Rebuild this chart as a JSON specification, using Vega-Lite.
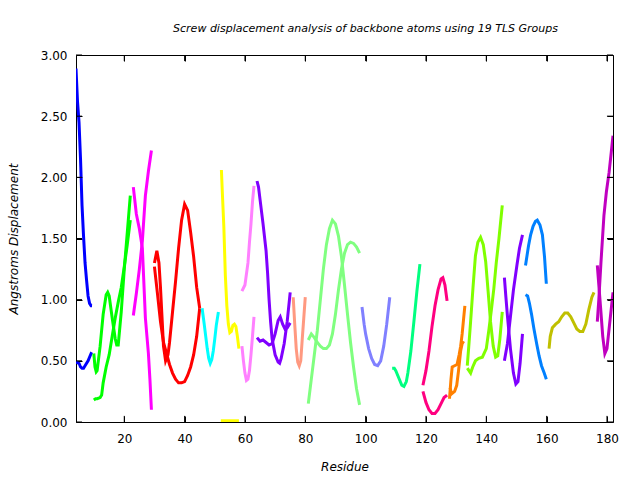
{
"$schema": "https://vega.github.io/schema/vega-lite/v6.json",
"width": 537, "height": 367,
"autosize": {"type": "none"},
"padding": {"left": 76, "top": 55, "right": 27, "bottom": 58},
"background": "white",
"config": {"view": {"stroke": "black", "strokeWidth": 1}, "font": "DejaVu Sans"},
"title": {"text": "Screw displacement analysis of backbone atoms using 19 TLS Groups", "font": "DejaVu Sans", "fontSize": 11, "fontStyle": "italic", "fontWeight": "normal", "anchor": "middle", "baseline": "alphabetic", "offset": 6, "dx": 21, "color": "black"},
"datasets": {
"xt": [{"t":20},{"t":40},{"t":60},{"t":80},{"t":100},{"t":120},{"t":140},{"t":160},{"t":180}],
"yt": [{"t":0},{"t":0.5},{"t":1},{"t":1.5},{"t":2},{"t":2.5},{"t":3}]
},
"data": {"values": [
{"c":"1a","g":"1","r":4,"v":2.89},{"c":"1a","g":"1","r":4.5,"v":2.62},{"c":"1a","g":"1","r":5,"v":2.45},{"c":"1a","g":"1","r":5.5,"v":2.15},{"c":"1a","g":"1","r":6,"v":1.77},{"c":"1a","g":"1","r":6.5,"v":1.52},{"c":"1a","g":"1","r":7,"v":1.30},{"c":"1a","g":"1","r":7.5,"v":1.16},{"c":"1a","g":"1","r":8,"v":1.03},{"c":"1a","g":"1","r":8.5,"v":0.97},{"c":"1a","g":"1","r":9,"v":0.95},{"c":"1a","g":"1","r":9.3,"v":0.95},
{"c":"1b","g":"1","r":4,"v":0.49},{"c":"1b","g":"1","r":5,"v":0.48},{"c":"1b","g":"1","r":5.5,"v":0.45},{"c":"1b","g":"1","r":6,"v":0.44},{"c":"1b","g":"1","r":6.5,"v":0.44},{"c":"1b","g":"1","r":7,"v":0.46},{"c":"1b","g":"1","r":8,"v":0.50},{"c":"1b","g":"1","r":9,"v":0.56},{"c":"1b","g":"1","r":9.2,"v":0.57},
{"c":"2a","g":"2","r":9.9,"v":0.56},{"c":"2a","g":"2","r":10.3,"v":0.45},{"c":"2a","g":"2","r":10.7,"v":0.41},{"c":"2a","g":"2","r":11,"v":0.42},{"c":"2a","g":"2","r":12,"v":0.62},{"c":"2a","g":"2","r":13,"v":0.88},{"c":"2a","g":"2","r":14,"v":1.04},{"c":"2a","g":"2","r":14.5,"v":1.06},{"c":"2a","g":"2","r":15,"v":1.03},{"c":"2a","g":"2","r":16,"v":0.85},{"c":"2a","g":"2","r":17,"v":0.68},{"c":"2a","g":"2","r":17.5,"v":0.63},{"c":"2a","g":"2","r":18,"v":0.63},{"c":"2a","g":"2","r":19,"v":0.90},{"c":"2a","g":"2","r":20,"v":1.25},{"c":"2a","g":"2","r":21,"v":1.55},{"c":"2a","g":"2","r":22,"v":1.85},
{"c":"2b","g":"2","r":9.9,"v":0.18},{"c":"2b","g":"2","r":10.5,"v":0.19},{"c":"2b","g":"2","r":11,"v":0.19},{"c":"2b","g":"2","r":12,"v":0.20},{"c":"2b","g":"2","r":12.5,"v":0.22},{"c":"2b","g":"2","r":13,"v":0.32},{"c":"2b","g":"2","r":14,"v":0.45},{"c":"2b","g":"2","r":15,"v":0.55},{"c":"2b","g":"2","r":16,"v":0.70},{"c":"2b","g":"2","r":17,"v":0.85},{"c":"2b","g":"2","r":18,"v":0.98},{"c":"2b","g":"2","r":19,"v":1.10},{"c":"2b","g":"2","r":20,"v":1.27},{"c":"2b","g":"2","r":21,"v":1.45},{"c":"2b","g":"2","r":22,"v":1.65},
{"c":"3a","g":"3","r":23,"v":0.87},{"c":"3a","g":"3","r":24,"v":1.05},{"c":"3a","g":"3","r":25,"v":1.25},{"c":"3a","g":"3","r":26,"v":1.48},{"c":"3a","g":"3","r":27,"v":1.85},{"c":"3a","g":"3","r":28,"v":2.05},{"c":"3a","g":"3","r":29,"v":2.22},
{"c":"3b","g":"3","r":23,"v":1.92},{"c":"3b","g":"3","r":24,"v":1.70},{"c":"3b","g":"3","r":25,"v":1.58},{"c":"3b","g":"3","r":26,"v":1.42},{"c":"3b","g":"3","r":27,"v":0.85},{"c":"3b","g":"3","r":28,"v":0.56},{"c":"3b","g":"3","r":28.5,"v":0.35},{"c":"3b","g":"3","r":29,"v":0.10},
{"c":"4a","g":"4","r":30,"v":1.30},{"c":"4a","g":"4","r":30.8,"v":1.40},{"c":"4a","g":"4","r":31.5,"v":1.30},{"c":"4a","g":"4","r":32,"v":1.10},{"c":"4a","g":"4","r":33,"v":0.62},{"c":"4a","g":"4","r":33.7,"v":0.50},{"c":"4a","g":"4","r":34.5,"v":0.55},{"c":"4a","g":"4","r":35,"v":0.65},{"c":"4a","g":"4","r":36,"v":0.90},{"c":"4a","g":"4","r":37,"v":1.15},{"c":"4a","g":"4","r":38,"v":1.42},{"c":"4a","g":"4","r":39,"v":1.65},{"c":"4a","g":"4","r":40,"v":1.78},{"c":"4a","g":"4","r":41,"v":1.73},{"c":"4a","g":"4","r":42,"v":1.55},{"c":"4a","g":"4","r":43,"v":1.35},{"c":"4a","g":"4","r":44,"v":1.10},{"c":"4a","g":"4","r":45,"v":0.93},
{"c":"4b","g":"4","r":30,"v":1.27},{"c":"4b","g":"4","r":31,"v":1.05},{"c":"4b","g":"4","r":32,"v":0.82},{"c":"4b","g":"4","r":33,"v":0.65},{"c":"4b","g":"4","r":34,"v":0.56},{"c":"4b","g":"4","r":35,"v":0.47},{"c":"4b","g":"4","r":36,"v":0.40},{"c":"4b","g":"4","r":37,"v":0.35},{"c":"4b","g":"4","r":38,"v":0.32},{"c":"4b","g":"4","r":39,"v":0.32},{"c":"4b","g":"4","r":40,"v":0.33},{"c":"4b","g":"4","r":41,"v":0.38},{"c":"4b","g":"4","r":42,"v":0.45},{"c":"4b","g":"4","r":43,"v":0.55},{"c":"4b","g":"4","r":44,"v":0.70},{"c":"4b","g":"4","r":45,"v":0.93},
{"c":"5a","g":"5","r":45.8,"v":0.93},{"c":"5a","g":"5","r":46.5,"v":0.80},{"c":"5a","g":"5","r":47,"v":0.70},{"c":"5a","g":"5","r":47.5,"v":0.60},{"c":"5a","g":"5","r":48,"v":0.52},{"c":"5a","g":"5","r":48.5,"v":0.48},{"c":"5a","g":"5","r":49,"v":0.51},{"c":"5a","g":"5","r":49.5,"v":0.58},{"c":"5a","g":"5","r":50,"v":0.68},{"c":"5a","g":"5","r":50.5,"v":0.79},{"c":"5a","g":"5","r":51.2,"v":0.90},
{"c":"6a","g":"6","r":52.2,"v":2.06},{"c":"6a","g":"6","r":52.5,"v":1.88},{"c":"6a","g":"6","r":53,"v":1.60},{"c":"6a","g":"6","r":53.5,"v":1.20},{"c":"6a","g":"6","r":54,"v":0.95},{"c":"6a","g":"6","r":54.5,"v":0.80},{"c":"6a","g":"6","r":55,"v":0.73},{"c":"6a","g":"6","r":55.5,"v":0.74},{"c":"6a","g":"6","r":56,"v":0.79},{"c":"6a","g":"6","r":56.5,"v":0.80},{"c":"6a","g":"6","r":57,"v":0.78},{"c":"6a","g":"6","r":57.5,"v":0.70},{"c":"6a","g":"6","r":58,"v":0.60},
{"c":"6b","g":"6","r":52,"v":0.01},{"c":"6b","g":"6","r":58,"v":0.01},
{"c":"7a","g":"7","r":59,"v":1.07},{"c":"7a","g":"7","r":60,"v":1.12},{"c":"7a","g":"7","r":61,"v":1.30},{"c":"7a","g":"7","r":61.5,"v":1.47},{"c":"7a","g":"7","r":62,"v":1.62},{"c":"7a","g":"7","r":62.5,"v":1.80},{"c":"7a","g":"7","r":63,"v":1.93},
{"c":"7b","g":"7","r":59,"v":0.62},{"c":"7b","g":"7","r":59.5,"v":0.50},{"c":"7b","g":"7","r":60,"v":0.40},{"c":"7b","g":"7","r":60.5,"v":0.34},{"c":"7b","g":"7","r":61,"v":0.35},{"c":"7b","g":"7","r":61.5,"v":0.42},{"c":"7b","g":"7","r":62,"v":0.55},{"c":"7b","g":"7","r":62.5,"v":0.70},{"c":"7b","g":"7","r":63,"v":0.86},
{"c":"8a","g":"8","r":64,"v":1.97},{"c":"8a","g":"8","r":64.5,"v":1.92},{"c":"8a","g":"8","r":65,"v":1.82},{"c":"8a","g":"8","r":66,"v":1.62},{"c":"8a","g":"8","r":67,"v":1.40},{"c":"8a","g":"8","r":67.5,"v":1.22},{"c":"8a","g":"8","r":68,"v":1.00},{"c":"8a","g":"8","r":68.5,"v":0.82},{"c":"8a","g":"8","r":69,"v":0.68},{"c":"8a","g":"8","r":70,"v":0.55},{"c":"8a","g":"8","r":71,"v":0.49},{"c":"8a","g":"8","r":71.5,"v":0.48},{"c":"8a","g":"8","r":72,"v":0.52},{"c":"8a","g":"8","r":73,"v":0.64},{"c":"8a","g":"8","r":74,"v":0.82},{"c":"8a","g":"8","r":75,"v":1.06},
{"c":"8b","g":"8","r":64,"v":0.69},{"c":"8b","g":"8","r":65,"v":0.66},{"c":"8b","g":"8","r":66,"v":0.67},{"c":"8b","g":"8","r":67,"v":0.65},{"c":"8b","g":"8","r":68,"v":0.63},{"c":"8b","g":"8","r":69,"v":0.64},{"c":"8b","g":"8","r":70,"v":0.72},{"c":"8b","g":"8","r":71,"v":0.83},{"c":"8b","g":"8","r":71.7,"v":0.86},{"c":"8b","g":"8","r":72.5,"v":0.80},{"c":"8b","g":"8","r":73.3,"v":0.76},{"c":"8b","g":"8","r":74,"v":0.77},{"c":"8b","g":"8","r":75,"v":0.81},
{"c":"9a","g":"9","r":76,"v":1.02},{"c":"9a","g":"9","r":76.5,"v":0.80},{"c":"9a","g":"9","r":77,"v":0.60},{"c":"9a","g":"9","r":77.5,"v":0.49},{"c":"9a","g":"9","r":78,"v":0.46},{"c":"9a","g":"9","r":78.5,"v":0.50},{"c":"9a","g":"9","r":79,"v":0.68},{"c":"9a","g":"9","r":79.5,"v":0.85},{"c":"9a","g":"9","r":80,"v":1.02},
{"c":"10a","g":"10","r":81,"v":0.15},{"c":"10a","g":"10","r":82,"v":0.35},{"c":"10a","g":"10","r":83,"v":0.55},{"c":"10a","g":"10","r":84,"v":0.75},{"c":"10a","g":"10","r":85,"v":1.00},{"c":"10a","g":"10","r":86,"v":1.25},{"c":"10a","g":"10","r":87,"v":1.45},{"c":"10a","g":"10","r":88,"v":1.58},{"c":"10a","g":"10","r":89,"v":1.65},{"c":"10a","g":"10","r":90,"v":1.62},{"c":"10a","g":"10","r":91,"v":1.52},{"c":"10a","g":"10","r":92,"v":1.35},{"c":"10a","g":"10","r":93,"v":1.12},{"c":"10a","g":"10","r":94,"v":0.88},{"c":"10a","g":"10","r":95,"v":0.65},{"c":"10a","g":"10","r":96,"v":0.45},{"c":"10a","g":"10","r":97,"v":0.27},{"c":"10a","g":"10","r":98,"v":0.14},
{"c":"10b","g":"10","r":81,"v":0.67},{"c":"10b","g":"10","r":82,"v":0.72},{"c":"10b","g":"10","r":83,"v":0.69},{"c":"10b","g":"10","r":84,"v":0.65},{"c":"10b","g":"10","r":85,"v":0.62},{"c":"10b","g":"10","r":86,"v":0.60},{"c":"10b","g":"10","r":87,"v":0.60},{"c":"10b","g":"10","r":88,"v":0.63},{"c":"10b","g":"10","r":89,"v":0.72},{"c":"10b","g":"10","r":90,"v":0.88},{"c":"10b","g":"10","r":91,"v":1.08},{"c":"10b","g":"10","r":92,"v":1.25},{"c":"10b","g":"10","r":93,"v":1.38},{"c":"10b","g":"10","r":94,"v":1.45},{"c":"10b","g":"10","r":95,"v":1.47},{"c":"10b","g":"10","r":96,"v":1.46},{"c":"10b","g":"10","r":97,"v":1.43},{"c":"10b","g":"10","r":98,"v":1.38},
{"c":"11a","g":"11","r":98.8,"v":0.94},{"c":"11a","g":"11","r":99.5,"v":0.80},{"c":"11a","g":"11","r":100,"v":0.72},{"c":"11a","g":"11","r":101,"v":0.60},{"c":"11a","g":"11","r":102,"v":0.52},{"c":"11a","g":"11","r":103,"v":0.47},{"c":"11a","g":"11","r":104,"v":0.46},{"c":"11a","g":"11","r":105,"v":0.50},{"c":"11a","g":"11","r":106,"v":0.62},{"c":"11a","g":"11","r":107,"v":0.80},{"c":"11a","g":"11","r":108,"v":1.02},
{"c":"12a","g":"12","r":108.8,"v":0.44},{"c":"12a","g":"12","r":109.5,"v":0.44},{"c":"12a","g":"12","r":110,"v":0.42},{"c":"12a","g":"12","r":111,"v":0.36},{"c":"12a","g":"12","r":112,"v":0.30},{"c":"12a","g":"12","r":112.7,"v":0.29},{"c":"12a","g":"12","r":113.5,"v":0.33},{"c":"12a","g":"12","r":114,"v":0.40},{"c":"12a","g":"12","r":115,"v":0.58},{"c":"12a","g":"12","r":116,"v":0.82},{"c":"12a","g":"12","r":117,"v":1.07},{"c":"12a","g":"12","r":118,"v":1.29},
{"c":"13a","g":"13","r":119,"v":0.30},{"c":"13a","g":"13","r":120,"v":0.42},{"c":"13a","g":"13","r":121,"v":0.58},{"c":"13a","g":"13","r":122,"v":0.78},{"c":"13a","g":"13","r":123,"v":0.95},{"c":"13a","g":"13","r":124,"v":1.08},{"c":"13a","g":"13","r":125,"v":1.17},{"c":"13a","g":"13","r":125.6,"v":1.18},{"c":"13a","g":"13","r":126.3,"v":1.12},{"c":"13a","g":"13","r":127,"v":0.99},
{"c":"13b","g":"13","r":119,"v":0.25},{"c":"13b","g":"13","r":120,"v":0.16},{"c":"13b","g":"13","r":121,"v":0.10},{"c":"13b","g":"13","r":122,"v":0.07},{"c":"13b","g":"13","r":123,"v":0.07},{"c":"13b","g":"13","r":124,"v":0.10},{"c":"13b","g":"13","r":125,"v":0.15},{"c":"13b","g":"13","r":126,"v":0.20},{"c":"13b","g":"13","r":127,"v":0.22},
{"c":"14a","g":"14","r":127.8,"v":0.19},{"c":"14a","g":"14","r":128.3,"v":0.35},{"c":"14a","g":"14","r":128.7,"v":0.45},{"c":"14a","g":"14","r":129.5,"v":0.46},{"c":"14a","g":"14","r":130.3,"v":0.47},{"c":"14a","g":"14","r":131,"v":0.55},{"c":"14a","g":"14","r":131.5,"v":0.62},{"c":"14a","g":"14","r":132,"v":0.72},{"c":"14a","g":"14","r":132.5,"v":0.85},{"c":"14a","g":"14","r":132.9,"v":0.95},
{"c":"14b","g":"14","r":128,"v":0.28},{"c":"14b","g":"14","r":128.5,"v":0.23},{"c":"14b","g":"14","r":129.5,"v":0.25},{"c":"14b","g":"14","r":130.2,"v":0.30},{"c":"14b","g":"14","r":130.8,"v":0.42},{"c":"14b","g":"14","r":131.5,"v":0.58},{"c":"14b","g":"14","r":132,"v":0.64},{"c":"14b","g":"14","r":132.5,"v":0.66},
{"c":"15a","g":"15","r":133.7,"v":0.44},{"c":"15a","g":"15","r":134.8,"v":0.40},{"c":"15a","g":"15","r":135.5,"v":0.45},{"c":"15a","g":"15","r":136.4,"v":0.50},{"c":"15a","g":"15","r":137.5,"v":0.52},{"c":"15a","g":"15","r":138.7,"v":0.53},{"c":"15a","g":"15","r":140,"v":0.60},{"c":"15a","g":"15","r":140.9,"v":0.76},{"c":"15a","g":"15","r":141.7,"v":0.92},{"c":"15a","g":"15","r":142.5,"v":1.09},{"c":"15a","g":"15","r":143.3,"v":1.30},{"c":"15a","g":"15","r":144.2,"v":1.50},{"c":"15a","g":"15","r":145.3,"v":1.77},
{"c":"15b","g":"15","r":133.7,"v":0.46},{"c":"15b","g":"15","r":134.2,"v":0.62},{"c":"15b","g":"15","r":134.8,"v":0.82},{"c":"15b","g":"15","r":135.6,"v":1.10},{"c":"15b","g":"15","r":136.4,"v":1.36},{"c":"15b","g":"15","r":137.2,"v":1.47},{"c":"15b","g":"15","r":138.1,"v":1.51},{"c":"15b","g":"15","r":139,"v":1.45},{"c":"15b","g":"15","r":139.8,"v":1.31},{"c":"15b","g":"15","r":140.6,"v":1.07},{"c":"15b","g":"15","r":141.4,"v":0.82},{"c":"15b","g":"15","r":142.3,"v":0.62},{"c":"15b","g":"15","r":143.1,"v":0.53},{"c":"15b","g":"15","r":143.8,"v":0.54},{"c":"15b","g":"15","r":144.5,"v":0.68},{"c":"15b","g":"15","r":145.3,"v":0.90},
{"c":"16a","g":"16","r":146,"v":1.18},{"c":"16a","g":"16","r":146.5,"v":1.02},{"c":"16a","g":"16","r":147,"v":0.87},{"c":"16a","g":"16","r":148,"v":0.60},{"c":"16a","g":"16","r":149,"v":0.40},{"c":"16a","g":"16","r":149.8,"v":0.31},{"c":"16a","g":"16","r":150.5,"v":0.33},{"c":"16a","g":"16","r":151.2,"v":0.48},{"c":"16a","g":"16","r":152,"v":0.72},
{"c":"16b","g":"16","r":146,"v":0.50},{"c":"16b","g":"16","r":147,"v":0.64},{"c":"16b","g":"16","r":148,"v":0.86},{"c":"16b","g":"16","r":149,"v":1.08},{"c":"16b","g":"16","r":150.2,"v":1.29},{"c":"16b","g":"16","r":151,"v":1.42},{"c":"16b","g":"16","r":152,"v":1.53},
{"c":"17a","g":"17","r":153,"v":1.28},{"c":"17a","g":"17","r":154,"v":1.44},{"c":"17a","g":"17","r":154.7,"v":1.53},{"c":"17a","g":"17","r":155.5,"v":1.60},{"c":"17a","g":"17","r":156.3,"v":1.64},{"c":"17a","g":"17","r":156.9,"v":1.65},{"c":"17a","g":"17","r":157.8,"v":1.61},{"c":"17a","g":"17","r":158.6,"v":1.53},{"c":"17a","g":"17","r":159.3,"v":1.35},{"c":"17a","g":"17","r":159.9,"v":1.13},
{"c":"17b","g":"17","r":153,"v":1.04},{"c":"17b","g":"17","r":153.7,"v":1.03},{"c":"17b","g":"17","r":154.3,"v":0.97},{"c":"17b","g":"17","r":155,"v":0.88},{"c":"17b","g":"17","r":155.8,"v":0.76},{"c":"17b","g":"17","r":156.7,"v":0.64},{"c":"17b","g":"17","r":157.5,"v":0.54},{"c":"17b","g":"17","r":158.3,"v":0.46},{"c":"17b","g":"17","r":159.2,"v":0.40},{"c":"17b","g":"17","r":159.9,"v":0.35},
{"c":"18a","g":"18","r":160.8,"v":0.60},{"c":"18a","g":"18","r":161.2,"v":0.70},{"c":"18a","g":"18","r":161.9,"v":0.77},{"c":"18a","g":"18","r":163,"v":0.80},{"c":"18a","g":"18","r":164,"v":0.82},{"c":"18a","g":"18","r":165,"v":0.86},{"c":"18a","g":"18","r":166,"v":0.89},{"c":"18a","g":"18","r":167,"v":0.89},{"c":"18a","g":"18","r":168,"v":0.86},{"c":"18a","g":"18","r":169,"v":0.81},{"c":"18a","g":"18","r":170,"v":0.76},{"c":"18a","g":"18","r":171,"v":0.74},{"c":"18a","g":"18","r":172,"v":0.74},{"c":"18a","g":"18","r":173,"v":0.80},{"c":"18a","g":"18","r":174,"v":0.92},{"c":"18a","g":"18","r":175,"v":1.02},{"c":"18a","g":"18","r":175.7,"v":1.06},
{"c":"19a","g":"19","r":176.8,"v":1.28},{"c":"19a","g":"19","r":177.3,"v":1.12},{"c":"19a","g":"19","r":177.9,"v":0.93},{"c":"19a","g":"19","r":178.6,"v":0.70},{"c":"19a","g":"19","r":179.3,"v":0.56},{"c":"19a","g":"19","r":180,"v":0.60},{"c":"19a","g":"19","r":180.7,"v":0.76},{"c":"19a","g":"19","r":181.4,"v":0.92},{"c":"19a","g":"19","r":182,"v":1.06},
{"c":"19b","g":"19","r":176.8,"v":0.82},{"c":"19b","g":"19","r":177.3,"v":1.00},{"c":"19b","g":"19","r":178,"v":1.30},{"c":"19b","g":"19","r":179,"v":1.69},{"c":"19b","g":"19","r":179.8,"v":1.88},{"c":"19b","g":"19","r":180.7,"v":2.04},{"c":"19b","g":"19","r":181.4,"v":2.20},{"c":"19b","g":"19","r":182,"v":2.34}
]},
"layer": [
{
"mark": {"type": "line", "strokeWidth": 3, "clip": true},
"encoding": {
"x": {"field": "r", "type": "quantitative", "scale": {"domain": [4, 182], "nice": false, "zero": false},
 "axis": {"orient": "bottom", "offset": -6, "title": "Residue", "values": [20,40,60,80,100,120,140,160,180], "grid": false, "domain": false, "ticks": true, "tickColor": "black", "tickSize": 6, "labelPadding": 11, "labelFontSize": 12, "labelColor": "black", "labelFont": "DejaVu Sans", "titleFont": "DejaVu Sans", "titleFontSize": 12, "titleFontStyle": "italic", "titleFontWeight": "normal", "titleColor": "black", "titlePadding": 17}},
"y": {"field": "v", "type": "quantitative", "scale": {"domain": [0, 3], "nice": false, "zero": false},
 "axis": {"orient": "left", "offset": -6, "title": "Angstroms Displacement", "values": [0,0.5,1,1.5,2,2.5,3], "format": ".2f", "grid": false, "domain": false, "ticks": true, "tickColor": "black", "tickSize": 6, "labelPadding": 9, "labelFontSize": 12, "labelColor": "black", "labelFont": "DejaVu Sans", "titleFont": "DejaVu Sans", "titleFontSize": 12, "titleFontStyle": "italic", "titleFontWeight": "normal", "titleColor": "black", "titlePadding": 20}},
"color": {"field": "g", "type": "nominal", "legend": null,
 "scale": {"domain": ["1","2","3","4","5","6","7","8","9","10","11","12","13","14","15","16","17","18","19"],
 "range": ["#0000FF","#00FF00","#FF00FF","#FF0000","#00FFFF","#FFFF00","#FF80FF","#8000FF","#FF9980","#80FF80","#8080FF","#00FF80","#FF0080","#FF8000","#80FF00","#8000FF","#0080FF","#C0C000","#C000C0"]}},
"detail": {"field": "c", "type": "nominal"}
}
},
{
"mark": {"type": "point", "opacity": 0},
"encoding": {
"x": {"datum": 100, "type": "quantitative", "axis": {"orient": "top", "offset": -6, "title": null, "labels": false, "values": [20,40,60,80,100,120,140,160,180], "grid": false, "domain": false, "ticks": true, "tickColor": "black", "tickSize": 6}},
"y": {"datum": 1, "type": "quantitative", "axis": {"orient": "right", "offset": -6, "title": null, "labels": false, "values": [0,0.5,1,1.5,2,2.5,3], "grid": false, "domain": false, "ticks": true, "tickColor": "black", "tickSize": 6}}
}
},
{
"data": {"name": "xt"},
"mark": {"type": "rule", "color": "black", "strokeWidth": 1},
"encoding": {"x": {"field": "t", "type": "quantitative", "axis": null}, "y": {"datum": 0, "type": "quantitative", "axis": null}, "y2": {"datum": 0.05}}
},
{
"data": {"name": "xt"},
"mark": {"type": "rule", "color": "black", "strokeWidth": 1},
"encoding": {"x": {"field": "t", "type": "quantitative", "axis": null}, "y": {"datum": 2.95, "type": "quantitative", "axis": null}, "y2": {"datum": 3}}
},
{
"data": {"name": "yt"},
"mark": {"type": "rule", "color": "black", "strokeWidth": 1},
"encoding": {"y": {"field": "t", "type": "quantitative", "axis": null}, "x": {"datum": 4, "type": "quantitative", "axis": null}, "x2": {"datum": 6}}
},
{
"data": {"name": "yt"},
"mark": {"type": "rule", "color": "black", "strokeWidth": 1},
"encoding": {"y": {"field": "t", "type": "quantitative", "axis": null}, "x": {"datum": 180, "type": "quantitative", "axis": null}, "x2": {"datum": 182}}
}
],
"resolve": {"axis": {"x": "independent", "y": "independent"}}
}
